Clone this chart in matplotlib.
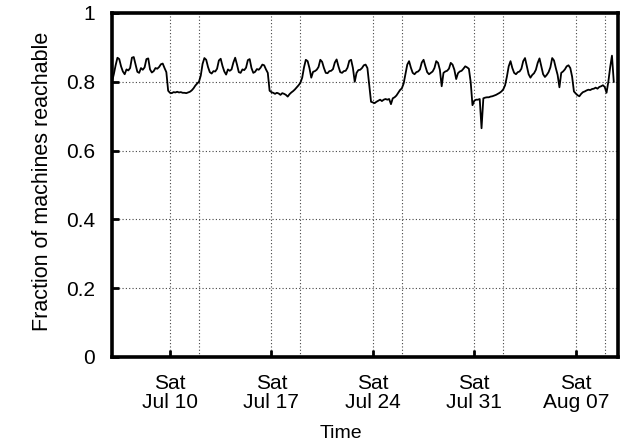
import numpy as np
import matplotlib
matplotlib.use("Agg")
import matplotlib.pyplot as plt
import matplotlib.dates as mdates
from matplotlib.ticker import FormatStrFormatter

plt.rcParams['font.family'] = ['Liberation Sans', 'DejaVu Sans']

# 3-hourly samples (00,03,...,21h), starting Tue Jul 6 2010 00:00
week1 = [  # Jul 6 .. Jul 12
    0.800, 0.822, 0.848, 0.870, 0.866, 0.845, 0.830, 0.822,
    0.836, 0.833, 0.840, 0.870, 0.872, 0.850, 0.829, 0.826,
    0.840, 0.835, 0.842, 0.866, 0.868, 0.836, 0.827, 0.831,
    0.840, 0.838, 0.843, 0.851, 0.853, 0.840, 0.828, 0.774,
    0.768, 0.767, 0.770, 0.769, 0.771, 0.769, 0.770, 0.768,
    0.768, 0.767, 0.769, 0.771, 0.775, 0.781, 0.789, 0.795,
    0.800, 0.818, 0.852, 0.869, 0.864, 0.843, 0.828, 0.824,
]
week2 = [  # Jul 13 .. Jul 19
    0.831, 0.830, 0.838, 0.862, 0.867, 0.846, 0.830, 0.821,
    0.836, 0.832, 0.836, 0.856, 0.870, 0.850, 0.828, 0.826,
    0.836, 0.834, 0.841, 0.863, 0.866, 0.840, 0.826, 0.829,
    0.837, 0.835, 0.841, 0.850, 0.848, 0.836, 0.826, 0.774,
    0.770, 0.768, 0.765, 0.768, 0.766, 0.762, 0.767, 0.765,
    0.762, 0.757, 0.764, 0.769, 0.773, 0.778, 0.784, 0.790,
    0.797, 0.812, 0.842, 0.864, 0.860, 0.840, 0.812, 0.829,
]
week3 = [  # Jul 20 .. Jul 26
    0.831, 0.835, 0.843, 0.864, 0.858, 0.840, 0.826, 0.825,
    0.831, 0.832, 0.837, 0.856, 0.865, 0.845, 0.828, 0.826,
    0.831, 0.832, 0.841, 0.861, 0.864, 0.840, 0.800, 0.826,
    0.834, 0.835, 0.840, 0.848, 0.850, 0.840, 0.792, 0.742,
    0.740, 0.738, 0.742, 0.745, 0.748, 0.744, 0.748, 0.750,
    0.748, 0.750, 0.735, 0.752, 0.755, 0.760, 0.768, 0.776,
    0.781, 0.795, 0.822, 0.850, 0.860, 0.841, 0.826, 0.822,
]
week4 = [  # Jul 27 .. Aug 2
    0.828, 0.830, 0.836, 0.856, 0.864, 0.845, 0.828, 0.822,
    0.826, 0.830, 0.840, 0.860, 0.855, 0.835, 0.787, 0.826,
    0.830, 0.832, 0.838, 0.855, 0.850, 0.835, 0.808, 0.825,
    0.830, 0.832, 0.838, 0.845, 0.842, 0.838, 0.800, 0.732,
    0.745, 0.748, 0.748, 0.750, 0.665, 0.752, 0.754, 0.755,
    0.755, 0.757, 0.758, 0.760, 0.762, 0.765, 0.768, 0.772,
    0.778, 0.790, 0.815, 0.845, 0.860, 0.840, 0.826, 0.822,
]
week5 = [  # Aug 3 .. Aug 9 (partial)
    0.828, 0.830, 0.838, 0.860, 0.869, 0.845, 0.822, 0.812,
    0.820, 0.825, 0.835, 0.855, 0.868, 0.845, 0.822, 0.814,
    0.820, 0.828, 0.842, 0.869, 0.862, 0.840, 0.820, 0.784,
    0.826, 0.830, 0.836, 0.845, 0.848, 0.840, 0.815, 0.772,
    0.766, 0.761, 0.758, 0.765, 0.770, 0.772, 0.775, 0.777,
    0.776, 0.779, 0.780, 0.783, 0.780, 0.785, 0.787, 0.790,
    0.785, 0.768, 0.800, 0.842, 0.876, 0.800,
]

reach = np.array(week1 + week2 + week3 + week4 + week5)
start = np.datetime64('2010-07-06T00:00')
times = start + np.arange(len(reach)) * np.timedelta64(3, 'h')
times = times.astype('datetime64[s]').astype(object)

y_ticks = [0, 0.2, 0.4, 0.6, 0.8, 1.0]

fig = plt.figure(figsize=(6.27, 4.45), dpi=100)
ax = fig.add_axes([112/627, 1-357/445, (618-112)/627, (357-13)/445])

ax.plot(times, reach, color='black', lw=1.3, zorder=3)

ax.set_xlim(np.datetime64('2010-07-06T00:00').astype(object),
            np.datetime64('2010-08-09T22:00').astype(object))
ax.set_ylim(0, 1)
ax.set_yticks(y_ticks)
ax.yaxis.set_major_formatter(FormatStrFormatter('%g'))

ax.xaxis.set_major_locator(mdates.WeekdayLocator(byweekday=mdates.SA))
ax.xaxis.set_minor_locator(mdates.WeekdayLocator(byweekday=mdates.MO))
ax.xaxis.set_major_formatter(mdates.DateFormatter('%a\n%b %d'))

for s in ax.spines.values():
    s.set_linewidth(2.6)

ax.tick_params(axis='both', which='major', direction='in', length=5, width=2,
               labelsize=15, top=False, right=False)
ax.tick_params(axis='x', which='minor', length=0)
ax.tick_params(axis='x', pad=12)
ax.tick_params(axis='y', pad=12)
for lab in ax.get_xticklabels():
    lab.set_linespacing(1.05)

gkw = dict(color='#444444', linestyle=(0, (1, 2)), linewidth=0.8)
ax.grid(True, which='major', axis='both', **gkw)
ax.grid(True, which='minor', axis='x', **gkw)
ax.set_axisbelow(True)

ax.set_xlabel('Time', fontsize=14)
ax.xaxis.set_label_coords(0.453, -0.197)
ax.set_ylabel('Fraction of machines reachable', fontsize=15.5)
ax.yaxis.set_label_coords(-0.117, 0.51)

fig.savefig('out.png', dpi=100)
